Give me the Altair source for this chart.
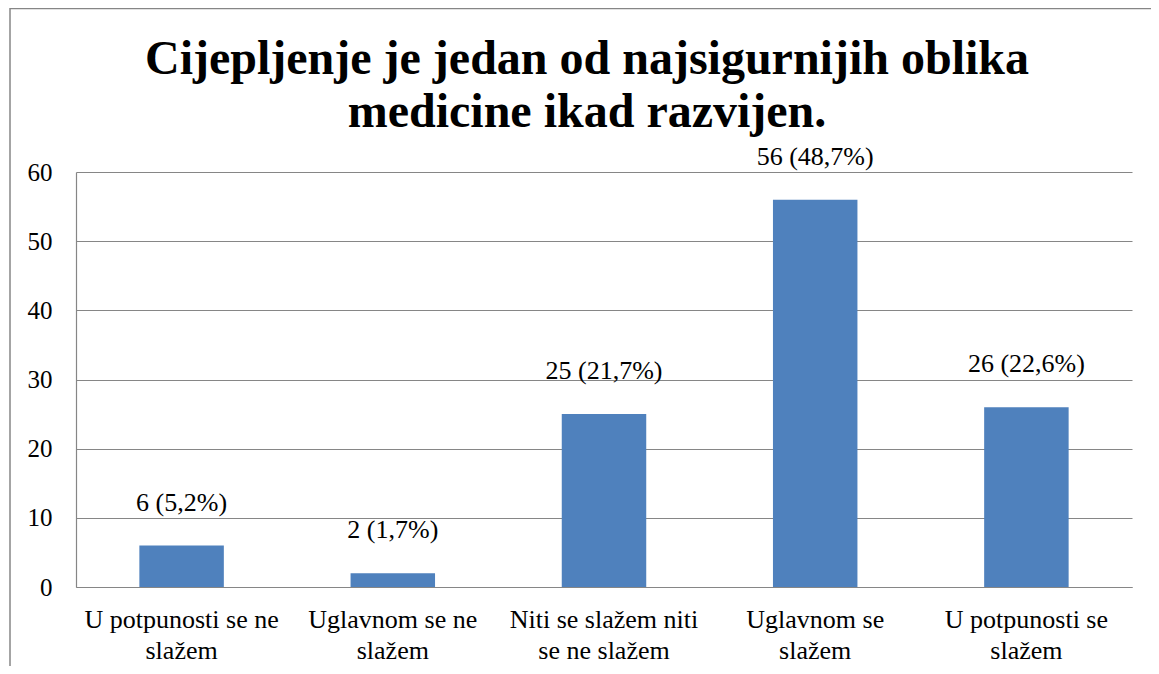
import altair as alt
import pandas as pd

categories = [
    "U potpunosti se ne|slažem",
    "Uglavnom se ne|slažem",
    "Niti se slažem niti|se ne slažem",
    "Uglavnom se|slažem",
    "U potpunosti se|slažem",
]
counts = [6, 2, 25, 56, 26]
labels = ["6 (5,2%)", "2 (1,7%)", "25 (21,7%)", "56 (48,7%)", "26 (22,6%)"]
y_ticks = [0, 10, 20, 30, 40, 50, 60]
title_lines = ["Cijepljenje je jedan od najsigurnijih oblika", "medicine ikad razvijen."]

df = pd.DataFrame({"cat": categories, "n": counts, "lab": labels})

FONT = "Liberation Serif"
GRAY = "#868686"

x = alt.X("cat:N", sort=categories, title=None,
          scale=alt.Scale(paddingInner=0.6, paddingOuter=0.3),
          axis=alt.Axis(labelAngle=0, ticks=False, domainColor=GRAY, domainWidth=1.2,
                        labelFont=FONT, labelFontSize=26, labelColor="black",
                        labelPadding=19, labelLineHeight=31, labelLimit=0,
                        labelExpr="split(datum.label, '|')"))
y = alt.Y("n:Q", title=None,
          scale=alt.Scale(domain=[0, 60], nice=False),
          axis=alt.Axis(values=y_ticks, ticks=False, domainColor=GRAY, domainWidth=1.2,
                        gridColor=GRAY, gridWidth=1.2,
                        labelFont=FONT, labelFontSize=25, labelColor="black",
                        labelPadding=24))

base = alt.Chart(df)
bars = base.mark_bar(color="#4F81BD").encode(x=x, y=y)
text = base.mark_text(font=FONT, fontSize=26, color="black", baseline="alphabetic", dy=-35).encode(
    x=alt.X("cat:N", sort=categories), y="n:Q", text="lab:N")

frame = alt.Chart(pd.DataFrame({"f": [0]})).mark_rect(filled=False, stroke=GRAY, strokeWidth=1.5).encode(
    x=alt.value(-66), x2=alt.value(1300), y=alt.value(-163.5), y2=alt.value(700))

chart = alt.layer(frame, bars, text).properties(
    width=1056, height=415,
    autosize=alt.AutoSizeParams(type="none"),
    padding={"left": 68, "top": 164, "right": 19, "bottom": 79},
    title=alt.TitleParams(title_lines, font=FONT, fontSize=48, fontWeight="bold",
                          color="black", anchor="middle", dx=-17, offset=0, dy=167,
                          baseline="alphabetic", lineHeight=53),
).configure_view(stroke=None)

chart.save("out.html", embed_options={"renderer": "svg", "actions": False})
